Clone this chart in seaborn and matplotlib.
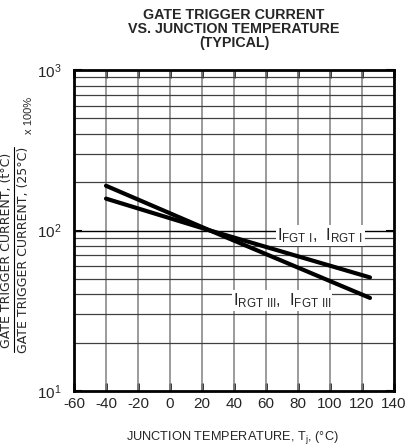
import numpy as np
import pandas as pd
import seaborn as sns
import matplotlib
matplotlib.use("Agg")
import matplotlib.pyplot as plt
from matplotlib.ticker import FixedLocator, FixedFormatter, NullFormatter
from matplotlib.lines import Line2D

# ---- data ----
temps = [-40, 25, 125]
ifgt_i = [158, 100, 51]      # I_FGT I, I_RGT I
irgt_iii = [190, 100, 38]    # I_RGT III, I_FGT III
x_ticks = [-60, -40, -20, 0, 20, 40, 60, 80, 100, 120, 140]
y_ticks = [10, 100, 1000]
y_tick_labels = [r"$\mathregular{10^1}$", r"$\mathregular{10^2}$", r"$\mathregular{10^3}$"]

df = pd.DataFrame({
    "T": temps * 2,
    "v": ifgt_i + irgt_iii,
    "s": ["I"] * len(temps) + ["III"] * len(temps),
})

sns.set_theme(style="white")
plt.rcParams["font.family"] = ["Liberation Sans", "DejaVu Sans"]
plt.rcParams["axes.unicode_minus"] = False

W, H = 406, 447
fig = plt.figure(figsize=(W / 100, H / 100), dpi=100)
L, R, T, B = 74, 394, 70, 391
ax = fig.add_axes([L / W, 1 - B / H, (R - L) / W, (B - T) / H])

ax.set_yscale("log")
ax.set_xlim(-60, 140)
ax.set_ylim(10, 1000)

# grid
for x in x_ticks[1:-1]:
    ax.axvline(x, color="#8a8a8a", lw=1.2, zorder=1)
for dec in [10, 100]:
    for m in range(2, 10):
        ax.axhline(dec * m, color="#404040", lw=0.9, zorder=1)
ax.axhline(100, color="black", lw=1.0, zorder=1)

sns.lineplot(data=df, x="T", y="v", units="s", estimator=None, color="black",
             lw=3.0, ax=ax, legend=False, zorder=3)

ax.xaxis.set_major_locator(FixedLocator(x_ticks))
ax.yaxis.set_major_locator(FixedLocator(y_ticks))
ax.yaxis.set_major_formatter(FixedFormatter(y_tick_labels))
ax.yaxis.set_minor_locator(FixedLocator([]))
ax.yaxis.set_minor_formatter(NullFormatter())
ax.tick_params(axis="x", direction="in", length=6, width=1.8, color="black",
               top=True, bottom=True, labelsize=11, pad=4)
ax.tick_params(axis="y", direction="in", length=6, width=1.5, color="black",
               left=True, right=True, labelsize=11, pad=9)
for lab in ax.get_xticklabels():
    lab.set_clip_on(False)
for sp in ax.spines.values():
    sp.set_color("black")
    sp.set_linewidth(2)
ax.set_xlabel("")
ax.set_ylabel("")

ax.text(94, 93, r"$\mathregular{I_{FGT\ I},\ I_{RGT\ I}}$", ha="center", va="center",
        fontsize=12, zorder=4,
        bbox=dict(facecolor="white", edgecolor="none", pad=1))
ax.text(70, 36.5, r"$\mathregular{I_{RGT\ III},\ I_{FGT\ III}}$", ha="center", va="center",
        fontsize=12, zorder=4,
        bbox=dict(facecolor="white", edgecolor="none", pad=1))

# title
fig.text(234 / W, 1 - 29 / H, "GATE TRIGGER CURRENT\nVS. JUNCTION TEMPERATURE\n(TYPICAL)",
         ha="center", va="center", fontsize=10.3, fontweight="bold", linespacing=1.0)

# x label
fig.text(232 / W, 1 - 437 / H, r"JUNCTION TEMPERATURE, T$\mathregular{_j}$, (°C)",
         ha="center", va="center", fontsize=9.2)

# y label as fraction (rotated; baseline sits at the given x)
fig.text(9.6 / W, 1 - 250 / H, "GATE TRIGGER CURRENT, (t°C)", rotation=90,
         rotation_mode="anchor", ha="center", va="baseline", fontsize=9,
         family="DejaVu Sans")
fig.text(26.8 / W, 1 - 250 / H, "GATE TRIGGER CURRENT, (25°C)", rotation=90,
         rotation_mode="anchor", ha="center", va="baseline", fontsize=9,
         family="DejaVu Sans")
fig.add_artist(Line2D([14.5 / W, 14.5 / W], [1 - 352 / H, 1 - 147 / H],
                      color="black", lw=0.8, transform=fig.transFigure))
fig.text(32.5 / W, 1 - 115 / H, "x 100%", rotation=90,
         rotation_mode="anchor", ha="center", va="baseline", fontsize=8)

fig.savefig("out.png", dpi=100)
